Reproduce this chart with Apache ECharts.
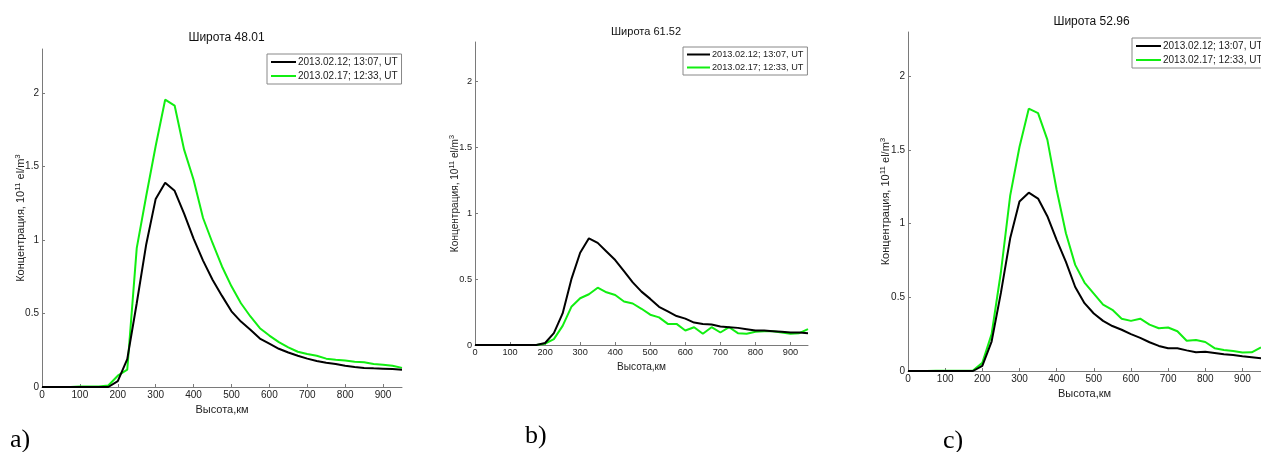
<!DOCTYPE html>
<html>
<head>
<meta charset="utf-8">
<script src="https://cdn.jsdelivr.net/npm/echarts@6/dist/echarts.min.js"></script>
<style>
  html, body { margin: 0; background: #fff; }
  #chart { width: 1261px; height: 452px; }
</style>
</head>
<body>
<div id="chart"></div>
<script>
// высоты, км (шаг 25 км)
const heights = [0, 25, 50, 75, 100, 125, 150, 175, 200, 225, 250, 275, 300, 325, 350, 375, 400, 425, 450, 475,
  500, 525, 550, 575, 600, 625, 650, 675, 700, 725, 750, 775, 800, 825, 850, 875, 900, 925, 950];

const seriesNames = ['2013.02.12; 13:07, UT', '2013.02.17; 12:33, UT'];
const panelTitles = ['Широта 48.01', 'Широта 61.52', 'Широта 52.96'];
const panelLetters = ['a)', 'b)', 'c)'];
const xTicks = [0, 100, 200, 300, 400, 500, 600, 700, 800, 900];
const yTicks = [0, 0.5, 1, 1.5, 2];

// а) широта 48.01
const blackA = [0, 0, 0, 0, 0, 0, 0, 0, 0.04, 0.19, 0.57, 0.97, 1.28, 1.39, 1.335, 1.18, 1.01, 0.86, 0.73, 0.62,
  0.515, 0.445, 0.39, 0.33, 0.295, 0.26, 0.235, 0.213, 0.193, 0.177, 0.165, 0.157, 0.145, 0.136, 0.13, 0.127, 0.125, 0.122, 0.118];
const greenA = [0, 0, 0, 0, 0.003, 0.003, 0.003, 0.01, 0.077, 0.118, 0.945, 1.3, 1.64, 1.955, 1.915, 1.615, 1.41, 1.15, 0.98, 0.82,
  0.685, 0.57, 0.48, 0.40, 0.35, 0.305, 0.27, 0.24, 0.225, 0.213, 0.193, 0.186, 0.18, 0.172, 0.168, 0.157, 0.152, 0.145, 0.13];

// b) широта 61.52
const blackB = [0, 0, 0, 0, 0, 0, 0, 0, 0.015, 0.09, 0.24, 0.5, 0.70, 0.81, 0.775, 0.71, 0.645, 0.56, 0.475, 0.405,
  0.35, 0.29, 0.255, 0.22, 0.20, 0.17, 0.16, 0.155, 0.14, 0.135, 0.13, 0.12, 0.11, 0.11, 0.105, 0.10, 0.095, 0.095, 0.09];
const greenB = [0, 0, 0, 0, 0, 0, 0, 0, 0.01, 0.045, 0.145, 0.29, 0.355, 0.385, 0.435, 0.40, 0.38, 0.33, 0.315, 0.275,
  0.23, 0.21, 0.16, 0.16, 0.11, 0.135, 0.085, 0.135, 0.095, 0.135, 0.09, 0.085, 0.10, 0.105, 0.105, 0.095, 0.085, 0.09, 0.12];

// c) широта 52.96
const blackC = [0, 0, 0, 0, 0, 0, 0, 0, 0.035, 0.20, 0.53, 0.90, 1.15, 1.21, 1.17, 1.05, 0.89, 0.74, 0.57, 0.46,
  0.39, 0.34, 0.305, 0.28, 0.25, 0.225, 0.195, 0.17, 0.155, 0.155, 0.14, 0.127, 0.13, 0.122, 0.113, 0.108, 0.10, 0.093, 0.086];
const greenC = [0, 0, 0, 0.002, 0.002, 0.002, 0.002, 0.003, 0.055, 0.25, 0.67, 1.19, 1.52, 1.78, 1.75, 1.57, 1.23, 0.935, 0.72, 0.60,
  0.525, 0.45, 0.415, 0.355, 0.34, 0.355, 0.315, 0.29, 0.295, 0.27, 0.205, 0.21, 0.197, 0.155, 0.143, 0.136, 0.125, 0.127, 0.16];

const panelData = [[blackA, greenA], [blackB, greenB], [blackC, greenC]];
const lineColors = ['#000000', '#11ee11'];

// расположение панелей (пиксели)
const layout = [
  { left: 42, top: 49, width: 360, height: 338, titleY: 27, legendX: 267, legendY: 54, yGap: 14, xGap: 14, s: 1, letterX: 10, letterY: 441 },
  { left: 475, top: 42, width: 333, height: 303, titleY: 21, legendX: 683, legendY: 47, yGap: 13, xGap: 13, s: 0.92, letterX: 525, letterY: 437 },
  { left: 908, top: 32, width: 358, height: 339, titleY: 11, legendX: 1132, legendY: 38, yGap: 15, xGap: 15, s: 1, letterX: 943, letterY: 442 }
];

const FONT = "'Liberation Sans', Arial, sans-serif";
const axisColor = '#7a7a7a';
const textColor = '#222';

const chart = echarts.init(document.getElementById('chart'));

const grids = [], xAxes = [], yAxes = [], series = [], titles = [], legends = [], graphics = [];

layout.forEach((p, i) => {
  const fs = 10 * p.s;
  grids.push({ left: p.left, top: p.top, width: p.width, height: p.height, containLabel: false });

  xAxes.push({
    type: 'value', gridIndex: i, min: 0, max: 950,
    name: 'Высота,км', nameLocation: 'middle', nameGap: p.xGap,
    nameTextStyle: { fontFamily: FONT, fontSize: 11 * p.s, color: textColor },
    axisLine: { lineStyle: { color: axisColor, width: 1 } },
    axisTick: { inside: true, length: 3, customValues: xTicks, lineStyle: { color: axisColor } },
    axisLabel: { customValues: xTicks, fontFamily: FONT, fontSize: fs, color: textColor, margin: 3 },
    splitLine: { show: false }
  });

  yAxes.push({
    type: 'value', gridIndex: i, min: 0, max: 2.3,
    name: 'Концентрация, 10{sup|11} el/m{sup|3}', nameLocation: 'middle', nameGap: p.yGap,
    nameMoveOverlap: false,
    nameTextStyle: {
      fontFamily: FONT, fontSize: 11 * p.s, color: textColor, lineHeight: 14,
      rich: { sup: { fontFamily: FONT, fontSize: 8 * p.s, color: textColor, verticalAlign: 'top', lineHeight: 9, padding: [0, 0, 6, 0] } }
    },
    axisLine: { show: true, lineStyle: { color: axisColor, width: 1 } },
    axisTick: { show: true, inside: true, length: 3, customValues: yTicks, lineStyle: { color: axisColor } },
    axisLabel: { customValues: yTicks, fontFamily: FONT, fontSize: fs, color: textColor, margin: 3 },
    splitLine: { show: false }
  });

  panelData[i].forEach((vals, k) => {
    series.push({
      name: seriesNames[k], type: 'line', xAxisIndex: i, yAxisIndex: i,
      data: heights.map((h, j) => [h, vals[j]]),
      showSymbol: false, symbol: 'none', color: lineColors[k],
      lineStyle: { width: 2, color: lineColors[k] },
      z: k === 0 ? 3 : 2
    });
  });

  titles.push({
    text: panelTitles[i], left: p.left + p.width / 2 - 0.5, top: p.titleY, textAlign: 'center',
    textStyle: { fontFamily: FONT, fontSize: 12 * p.s, fontWeight: 'normal', color: '#111' }
  });

  legends.push({
    data: seriesNames, orient: 'vertical', left: p.legendX, top: p.legendY,
    icon: 'rect', itemWidth: 25 * p.s, itemHeight: 2, itemGap: 4,
    padding: [3, 4, 3, 4], borderColor: '#888', borderWidth: 1, selectedMode: false,
    textStyle: { fontFamily: FONT, fontSize: 10 * p.s, color: textColor, padding: [0, 0, 0, -3] }
  });

  graphics.push({
    type: 'text', left: p.letterX, top: p.letterY - 14,
    style: { text: panelLetters[i], font: "26px 'Liberation Serif', 'Times New Roman', serif", fill: '#000' }
  });
});

chart.setOption({
  animation: false,
  backgroundColor: '#fff',
  title: titles,
  legend: legends,
  grid: grids,
  xAxis: xAxes,
  yAxis: yAxes,
  series: series,
  graphic: graphics
});
</script>
</body>
</html>
